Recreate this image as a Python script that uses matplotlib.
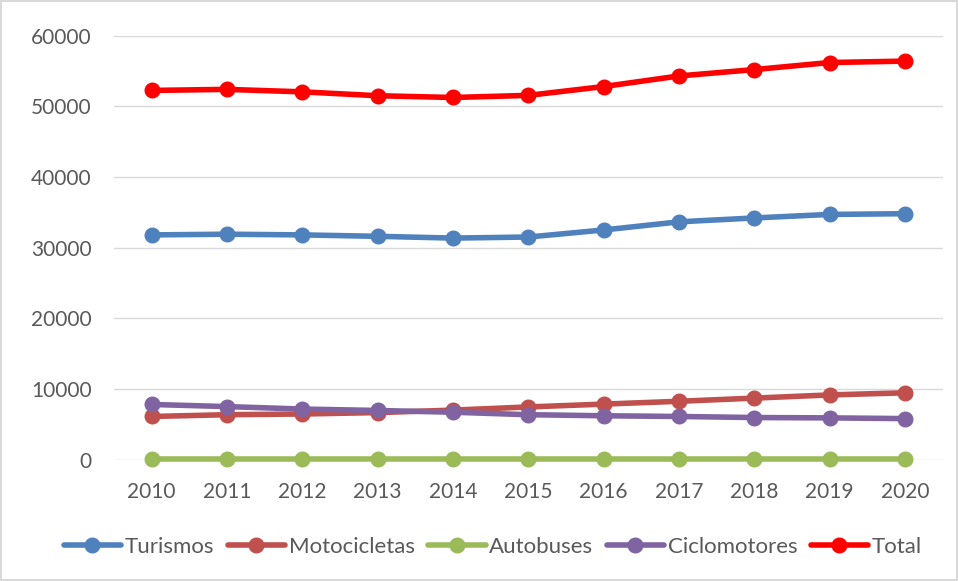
import matplotlib
matplotlib.use("Agg")
import matplotlib.pyplot as plt

years = ["2010", "2011", "2012", "2013", "2014", "2015", "2016", "2017", "2018", "2019", "2020"]
turismos = [31800, 31900, 31800, 31600, 31350, 31500, 32500, 33650, 34200, 34700, 34800]
motocicletas = [6100, 6350, 6450, 6650, 7000, 7450, 7850, 8250, 8700, 9150, 9450]
autobuses = [60, 60, 60, 60, 60, 60, 60, 60, 60, 60, 60]
ciclomotores = [7800, 7500, 7150, 6950, 6700, 6350, 6200, 6100, 5950, 5900, 5800]
total = [52250, 52400, 52050, 51500, 51250, 51550, 52800, 54300, 55200, 56200, 56400]

series = [
    ("Turismos", turismos, "#4F81BD"),
    ("Motocicletas", motocicletas, "#C0504D"),
    ("Autobuses", autobuses, "#9BBB59"),
    ("Ciclomotores", ciclomotores, "#8064A2"),
    ("Total", total, "#FF0000"),
]

plt.rcParams['font.family'] = ['Lato', 'DejaVu Sans']

fig = plt.figure(figsize=(9.58, 5.81), dpi=100)
fig.patch.set_edgecolor("#D9D9D9")
fig.patch.set_linewidth(1.5)
ax = fig.add_axes([0.119, 0.209, 0.865, 0.7296])

x = list(range(len(years)))
for name, vals, col in series:
    ax.plot(x, vals, color=col, lw=4, marker="o", markersize=10.5, label=name,
            solid_capstyle="round", clip_on=False)

ax.set_xlim(-0.5, len(years) - 0.5)
ax.set_ylim(0, 60000)
ax.set_yticks(range(0, 60001, 10000))
ax.set_xticks(x)
ax.set_xticklabels(years)
ax.grid(axis="y", color="#D9D9D9", lw=1)
ax.set_axisbelow(True)
for s in ["top", "right", "left", "bottom"]:
    ax.spines[s].set_visible(False)
ax.tick_params(axis="both", length=0, labelsize=15, colors="#595959")
ax.tick_params(axis="x", pad=16)
ax.tick_params(axis="y", pad=16)

ax.legend(loc="upper center", bbox_to_anchor=(0.457, -0.135), ncol=5, frameon=False,
          fontsize=16, labelcolor="#595959", handlelength=2.6, columnspacing=0.6,
          handletextpad=0.15)

fig.savefig("out.png", dpi=100)
